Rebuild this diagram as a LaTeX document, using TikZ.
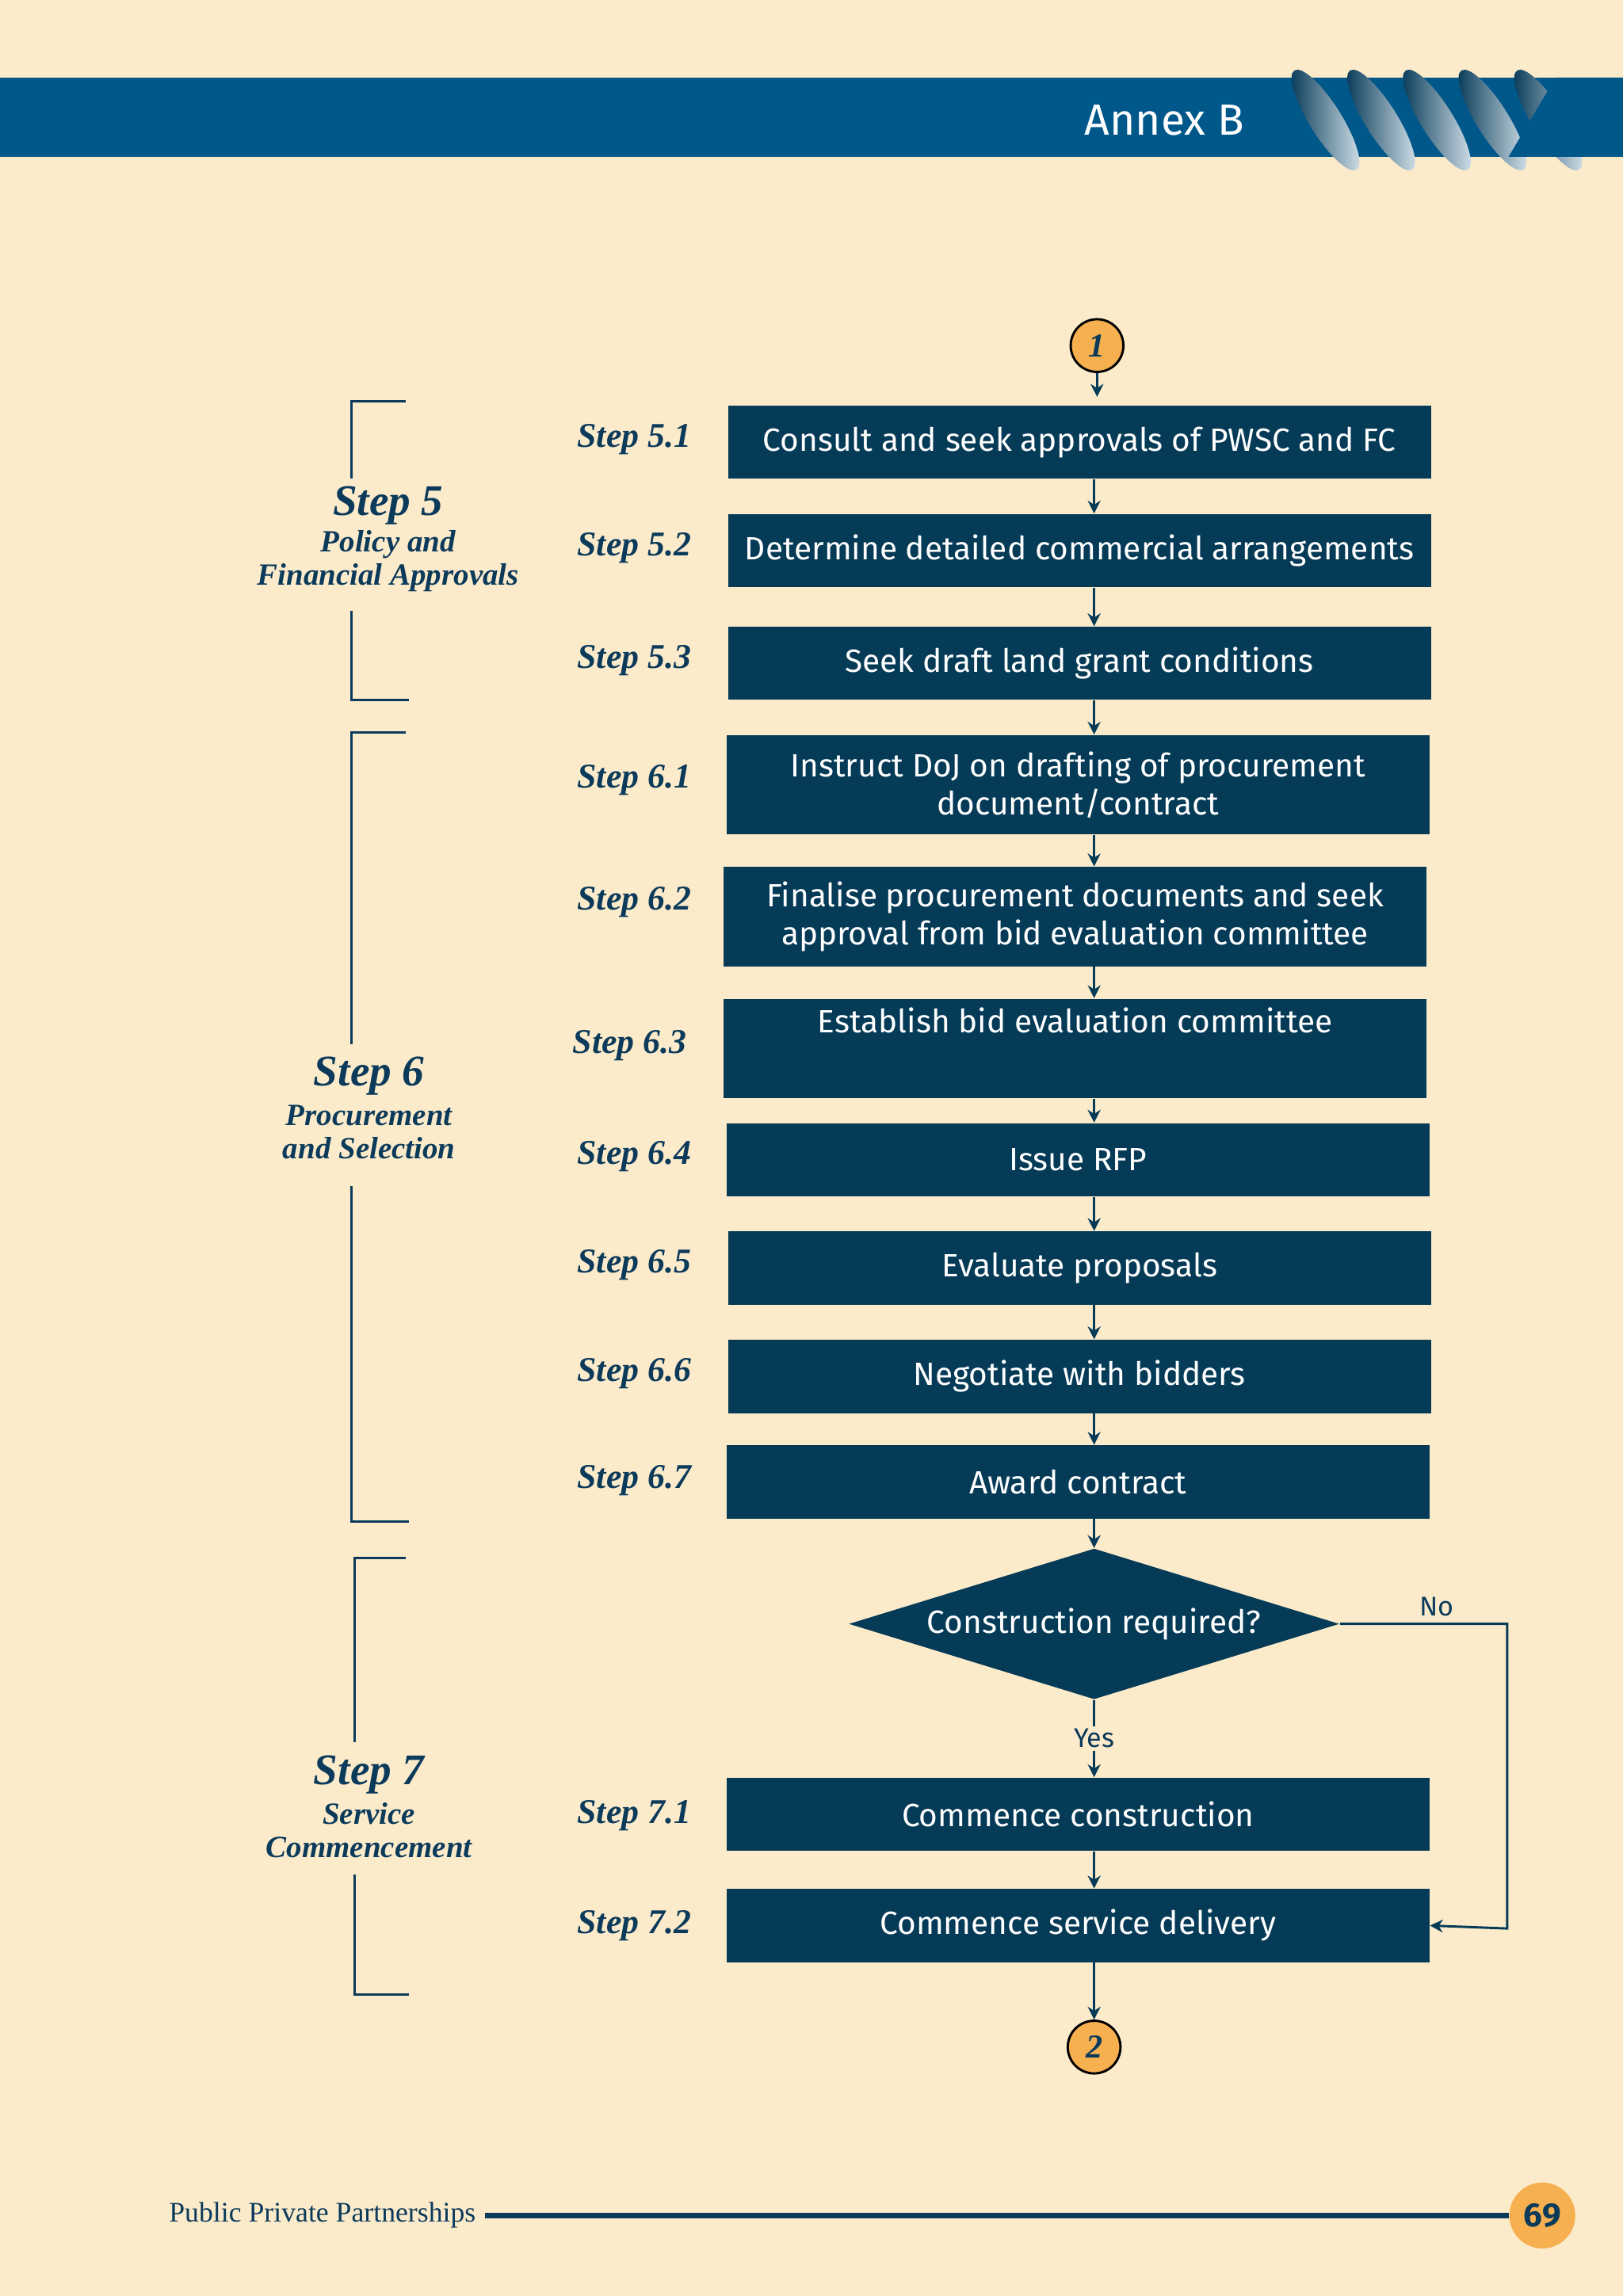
\documentclass[tikz,border=0pt]{standalone}
\usepackage{fontspec}
\setmainfont{Liberation Serif}
\newfontfamily\boxfont{Fira Sans}
\usetikzlibrary{shapes.geometric,arrows.meta}
\definecolor{paper}{HTML}{FCEBCB}
\definecolor{band}{HTML}{00578A}
\definecolor{boxblue}{HTML}{053B57}
\definecolor{inkblue}{HTML}{0B3A5A}
\definecolor{orng}{HTML}{F6B050}
\tikzset{
  stepbox/.style={fill=boxblue, text=white, font=\boxfont\fontsize{12.5}{15}\selectfont,
    align=center, inner sep=0pt, minimum width=9.6cm, minimum height=1cm},
  steplabel/.style={text=inkblue, font=\bfseries\itshape\fontsize{13.5}{15}\selectfont},
  grouplabel/.style={text=inkblue, font=\bfseries\itshape\fontsize{12}{13}\selectfont, align=center},
  flow/.style={draw=boxblue, line width=0.9pt, -{Stealth[length=5pt,width=5pt]}},
  bracket/.style={draw=inkblue, line width=0.9pt},
  marker/.style={circle, draw=black, line width=0.9pt, fill=orng, minimum size=0.72cm, inner sep=0pt,
    font=\bfseries\itshape\fontsize{13}{13}\selectfont, text=inkblue}
}
\begin{document}
\begin{tikzpicture}[x=0.02cm, y=-0.02cm]
\useasboundingbox (0,0) rectangle (1108,1568);
\fill[paper] (0,0) rectangle (1108,1568);
% header band
\fill[band] (0,53) rectangle (1108,107);
\node[text=white, font=\boxfont\fontsize{17}{17}\selectfont] (annex) at (795,82) {Annex B};
\foreach \x in {0,...,4}
{
\shade[left color=band!60!black, right color=white!85!band, rotate around={-58:(905+38*\x,82)}]
  (905+38*\x,82) ellipse (40 and 11);
}
\fill[band] (1062,53) -- (1108,53) -- (1108,107) -- (1030,107) -- cycle;

% steps
\node[marker] (c1) at (749,236) {1};
\node[stepbox] (s51) at (737,302) {Consult and seek approvals of PWSC and FC};
\node[stepbox] (s52) at (737,376) {Determine detailed commercial arrangements};
\node[stepbox] (s53) at (737,453) {Seek draft land grant conditions};
\node[stepbox, minimum height=1.36cm] (s61) at (736,536) {Instruct DoJ on drafting of procurement\\document/contract};
\node[stepbox, minimum height=1.36cm] (s62) at (734,626) {Finalise procurement documents and seek\\approval from bid evaluation committee};
\node[stepbox, minimum height=1.36cm, text depth=22pt] (s63) at (734,716) {Establish bid evaluation committee};
\node[stepbox] (s64) at (736,792) {Issue RFP};
\node[stepbox] (s65) at (737,866) {Evaluate proposals};
\node[stepbox] (s66) at (737,940) {Negotiate with bidders};
\node[stepbox] (s67) at (736,1012) {Award contract};
\node[diamond, fill=boxblue, text=white, font=\boxfont\fontsize{12.5}{15}\selectfont, aspect=3.25,
  inner sep=0pt, minimum width=6.7cm, minimum height=2.06cm] (q) at (747,1109) {Construction required?};
\node[stepbox] (s71) at (736,1239) {Commence construction};
\node[stepbox] (s72) at (736,1315) {Commence service delivery};
\node[marker] (c2) at (747,1398) {2};

% step labels
\foreach \n/\t/\yy in {a/5.1/300, b/5.2/374, c/5.3/451, d/6.1/533, e/6.2/616, g/6.4/790, h/6.5/864, i/6.6/938, j/6.7/1011, k/7.1/1240, l/7.2/1315}
{
\node[steplabel] (l\n) at (433,\yy) {Step \t};
}
\node[steplabel] (lf) at (430,714) {Step 6.3};

% connectors
\draw[flow] (c1) -- (749,271);
\draw[flow] (s51.south -| 747,0) -- (s52.north -| 747,0);
\draw[flow] (s52.south -| 747,0) -- (s53.north -| 747,0);
\draw[flow] (s53.south -| 747,0) -- (s61.north -| 747,0);
\draw[flow] (s61.south -| 747,0) -- (s62.north -| 747,0);
\draw[flow] (s62.south -| 747,0) -- (s63.north -| 747,0);
\draw[flow] (s63.south -| 747,0) -- (s64.north -| 747,0);
\draw[flow] (s64.south -| 747,0) -- (s65.north -| 747,0);
\draw[flow] (s65.south -| 747,0) -- (s66.north -| 747,0);
\draw[flow] (s66.south -| 747,0) -- (s67.north -| 747,0);
\draw[flow] (s67.south -| 747,0) -- (q.north);
\draw[flow] (q.south) -- node[fill=paper, text=inkblue, font=\boxfont\fontsize{10.5}{12}\selectfont, inner sep=1pt] {Yes} (s71.north -| 747,0);
\draw[flow] (s71.south -| 747,0) -- (s72.north -| 747,0);
\draw[flow] (q.east) -- (1029,1109) -- (1029,1317) -- (s72.east);
\node[text=inkblue, font=\boxfont\fontsize{10.5}{12}\selectfont] (no) at (981,1097) {No};
\draw[flow] (s72.south -| 747,0) -- (c2);

% group brackets
\draw[bracket] (277,274) -- (240,274) -- (240,327);
\draw[bracket] (240,417) -- (240,478) -- (279,478);
\draw[bracket] (277,500) -- (240,500) -- (240,713);
\draw[bracket] (240,810) -- (240,1039) -- (279,1039);
\draw[bracket] (277,1064) -- (242,1064) -- (242,1190);
\draw[bracket] (242,1280) -- (242,1362) -- (279,1362);
\node[grouplabel, font=\bfseries\itshape\fontsize{17}{19}\selectfont] (g5) at (265,345) {Step 5};
\node[grouplabel] (g5t) at (265,383) {Policy and\\Financial Approvals};
\node[grouplabel, font=\bfseries\itshape\fontsize{17}{19}\selectfont] (g6) at (252,735) {Step 6};
\node[grouplabel] (g6t) at (252,773) {Procurement\\and Selection};
\node[grouplabel, font=\bfseries\itshape\fontsize{17}{19}\selectfont] (g7) at (252,1212) {Step 7};
\node[grouplabel] (g7t) at (252,1250) {Service\\Commencement};

% footer
\node[text=inkblue, font=\fontsize{11}{12}\selectfont, anchor=east] (foot) at (331,1513) {Public Private Partnerships};
\node[circle, fill=orng, minimum size=0.9cm, inner sep=0pt, text=inkblue, font=\boxfont\bfseries\fontsize{13}{13}\selectfont] (pg) at (1053,1513) {69};
\draw[inkblue, line width=2pt] (foot.east) -- (pg.west);
\end{tikzpicture}
\end{document}
